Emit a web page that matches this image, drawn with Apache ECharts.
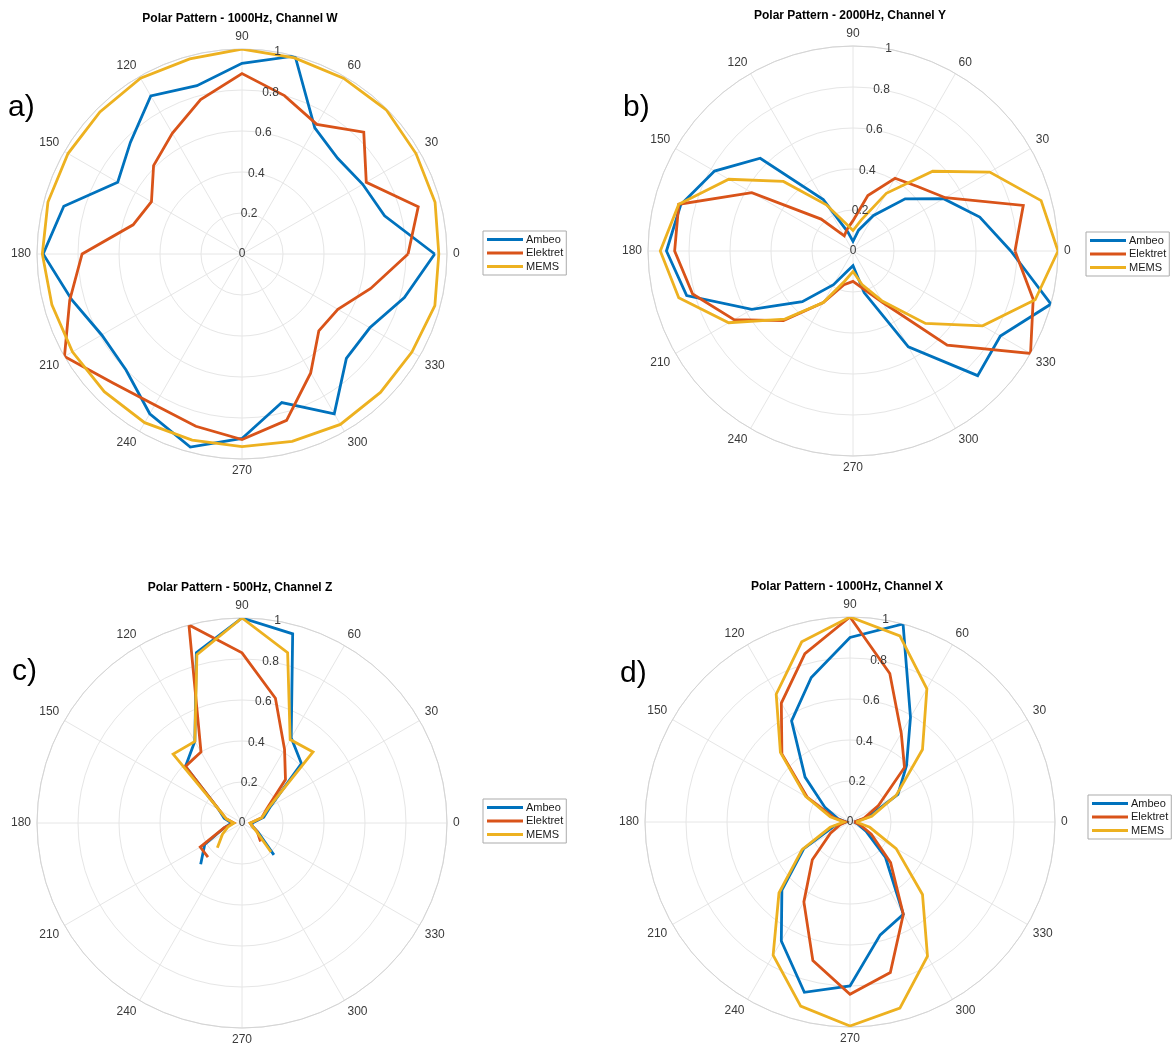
<!DOCTYPE html>
<html>
<head>
<meta charset="utf-8">
<script src="https://cdn.jsdelivr.net/npm/echarts@6/dist/echarts.min.js"></script>
<style>
html,body{margin:0;padding:0;background:#fff;}
#chart{width:1173px;height:1048px;}
</style>
</head>
<body>
<div id="chart"></div>
<script>
// ---------- DATA ----------
const SERIES_NAMES = ['Ambeo', 'Elektret', 'MEMS'];
const RADIUS_TICKS = [0, 0.2, 0.4, 0.6, 0.8, 1];

// full-circle angles (degrees), 15° steps, closed
const ANGLES_FULL = [0,15,30,45,60,75,90,105,120,135,150,165,180,195,210,225,240,255,270,285,300,315,330,345,360];
// panel c angles: measured from -45° (315) to 225°
const ANGLES_C = [315,330,345,0,15,30,45,60,75,90,105,120,135,150,165,180,195,210,225];

// a) 1000Hz, Channel W
const A_AMBEO    = [0.94,0.72,0.68,0.66,0.71,1.00,0.93,0.85,0.89,0.77,0.70,0.90,0.97,0.86,0.79,0.80,0.90,0.975,0.90,0.75,0.90,0.72,0.72,0.82,0.94];
const A_ELEKTRET = [0.81,0.89,0.70,0.84,0.73,0.80,0.88,0.78,0.68,0.61,0.51,0.55,0.78,0.87,1.00,0.89,0.85,0.87,0.905,0.84,0.67,0.53,0.54,0.65,0.81];
const A_MEMS     = [0.96,0.975,0.98,0.995,0.99,0.99,1.00,0.985,0.99,0.98,0.98,0.98,0.974,0.96,0.955,0.95,0.95,0.94,0.94,0.946,0.96,0.955,0.957,0.974,0.96];

// b) 2000Hz, Channel Y
const B_AMBEO    = [0.77,0.64,0.51,0.36,0.20,0.105,0.047,0.094,0.29,0.64,0.78,0.87,0.91,0.84,0.57,0.35,0.19,0.10,0.072,0.21,0.54,0.86,0.83,1.00,0.77];
const B_ELEKTRET = [0.79,0.86,0.52,0.445,0.41,0.28,0.148,0.11,0.085,0.22,0.57,0.88,0.87,0.81,0.67,0.48,0.29,0.17,0.148,0.19,0.29,0.65,1.00,0.91,0.79];
const B_MEMS     = [1.00,0.95,0.77,0.55,0.325,0.157,0.10,0.14,0.26,0.48,0.70,0.88,0.94,0.88,0.70,0.47,0.29,0.15,0.10,0.17,0.28,0.50,0.73,0.92,1.00];

// c) 500Hz, Channel Z (angles ANGLES_C)
const C_AMBEO    = [0.22,0.09,0.05,0.05,0.11,0.16,0.41,0.48,0.955,1.00,0.86,0.46,0.39,0.13,0.09,0.05,0.09,0.21,0.285];
const C_ELEKTRET = [0.128,0.086,0.05,0.04,0.10,0.14,0.30,0.415,0.63,0.83,1.00,0.40,0.39,0.13,0.08,0.04,0.09,0.235,0.235];
const C_MEMS     = [0.20,0.08,0.05,0.04,0.10,0.15,0.49,0.47,0.86,1.00,0.85,0.46,0.475,0.13,0.08,0.04,0.07,0.11,0.17];

// d) 1000Hz, Channel X
const D_AMBEO    = [0.02,0.09,0.27,0.39,0.59,1.00,0.90,0.73,0.57,0.31,0.14,0.06,0.02,0.08,0.26,0.47,0.67,0.86,0.80,0.57,0.52,0.245,0.09,0.04,0.02];
const D_ELEKTRET = [0.02,0.07,0.16,0.376,0.50,0.75,1.00,0.85,0.67,0.47,0.24,0.08,0.02,0.05,0.11,0.26,0.45,0.70,0.84,0.76,0.52,0.28,0.12,0.05,0.02];
const D_MEMS     = [0.03,0.11,0.26,0.50,0.75,0.94,1.00,0.91,0.72,0.48,0.25,0.10,0.03,0.10,0.27,0.49,0.75,0.93,0.995,0.94,0.756,0.50,0.26,0.10,0.03];

const TITLES = ['Polar Pattern - 1000Hz, Channel W', 'Polar Pattern - 2000Hz, Channel Y',
                'Polar Pattern - 500Hz, Channel Z', 'Polar Pattern - 1000Hz, Channel X'];
const PANEL_LETTERS = ['a)', 'b)', 'c)', 'd)'];

// ---------- LAYOUT / STYLE ----------
const COLORS = ['#0072BD', '#D95319', '#EDB120'];
const FONT = '"Liberation Sans", Arial, Helvetica, sans-serif';
const R = 205;
const panels = [
  {center:[242,254], title:[240,19], letter:[8,108], legend:[483,231], angles:ANGLES_FULL, data:[A_AMBEO,A_ELEKTRET,A_MEMS]},
  {center:[853,251], title:[850,16], letter:[623,108], legend:[1086,232], angles:ANGLES_FULL, data:[B_AMBEO,B_ELEKTRET,B_MEMS]},
  {center:[242,823], title:[240,588], letter:[12,672], legend:[483,799], angles:ANGLES_C, data:[C_AMBEO,C_ELEKTRET,C_MEMS]},
  {center:[850,822], title:[847,587], letter:[620,674], legend:[1088,795], angles:ANGLES_FULL, data:[D_AMBEO,D_ELEKTRET,D_MEMS]}
];

const polar = [], angleAxis = [], radiusAxis = [], series = [], legend = [], graphic = [];
panels.forEach((p, i) => {
  // data polar
  polar.push({center: p.center, radius: R});
  angleAxis.push({
    polarIndex: 2*i, type: 'value', min: 0, max: 360, interval: 30,
    startAngle: 0, clockwise: false,
    axisLine: {show: true, lineStyle: {color: '#d4d4d4', width: 1}},
    axisTick: {show: false},
    axisLabel: {show: true, color: '#3a3a3a', fontSize: 12, fontFamily: FONT, margin: 6},
    splitLine: {show: true, lineStyle: {color: '#e6e6e6', width: 1}}
  });
  radiusAxis.push({
    polarIndex: 2*i, type: 'value', min: 0, max: 1, interval: 0.2,
    axisLine: {show: false}, axisTick: {show: false}, axisLabel: {show: false},
    splitLine: {show: true, lineStyle: {color: '#e6e6e6', width: 1}}
  });
  // label polar (radial tick labels along 80°)
  polar.push({center: p.center, radius: R});
  angleAxis.push({
    polarIndex: 2*i+1, type: 'value', min: 0, max: 360, startAngle: 80, show: false
  });
  radiusAxis.push({
    polarIndex: 2*i+1, type: 'value', min: 0, max: 1, interval: 0.2, z: 5,
    axisLine: {show: false}, axisTick: {show: false}, splitLine: {show: false},
    axisLabel: {show: true, color: '#3a3a3a', fontSize: 12, fontFamily: FONT, margin: 0,
                align: 'center', verticalAlign: 'middle',
                formatter: v => String(+v.toFixed(1))}
  });
  p.data.forEach((vals, k) => {
    series.push({
      name: SERIES_NAMES[k], type: 'line', coordinateSystem: 'polar', polarIndex: 2*i,
      showSymbol: false, symbol: 'none', silent: true, animation: false, z: 3,
      lineStyle: {color: COLORS[k], width: 2.8, join: 'miter'},
      itemStyle: {color: COLORS[k]},
      data: vals.map((v, j) => [v, p.angles[j]])
    });
  });
  legend.push({
    data: SERIES_NAMES, orient: 'vertical', left: p.legend[0], top: p.legend[1],
    icon: 'rect', itemWidth: 36, itemHeight: 3, itemGap: 2.5,
    padding: [3, 3, 3, 4], borderColor: '#ababab', borderWidth: 1, backgroundColor: '#fff',
    selectedMode: false,
    textStyle: {fontSize: 11, color: '#1a1a1a', fontFamily: FONT, padding: [0,0,0,-2]}
  });
  graphic.push({
    type: 'text', x: p.title[0], y: p.title[1], silent: true,
    style: {text: TITLES[i], font: 'bold 12px ' + FONT, fill: '#000',
            textAlign: 'center', textVerticalAlign: 'middle', align: 'center', verticalAlign: 'middle'}
  });
  graphic.push({
    type: 'text', x: p.letter[0], y: p.letter[1], silent: true,
    style: {text: PANEL_LETTERS[i], font: '30px ' + FONT, fill: '#000',
            textAlign: 'left', textVerticalAlign: 'middle', align: 'left', verticalAlign: 'middle'}
  });
});

const chart = echarts.init(document.getElementById('chart'), null, {renderer: 'canvas'});
chart.setOption({
  backgroundColor: '#fff',
  animation: false,
  polar, angleAxis, radiusAxis, series, legend, graphic
});
</script>
</body>
</html>
